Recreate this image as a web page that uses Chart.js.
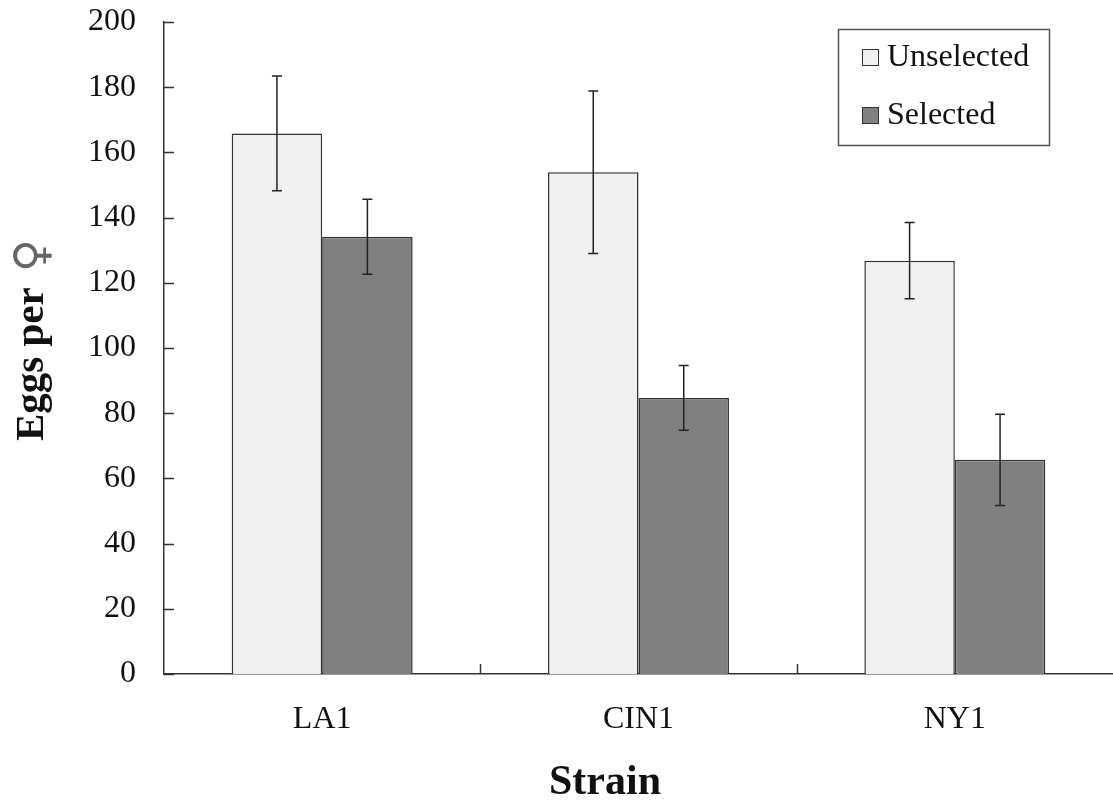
<!DOCTYPE html>
<html>
<head>
<meta charset="utf-8">
<title>Eggs per female by strain</title>
<script src="https://cdn.jsdelivr.net/npm/chart.js"></script>
<style>
  html, body { margin: 0; padding: 0; background: #fff; }
  #wrap { width: 1113px; height: 800px; }
</style>
</head>
<body>
<div id="wrap"><canvas id="chart" width="1113" height="800"></canvas></div>
<script>
const strains = ["LA1", "CIN1", "NY1"];
const unselected = [165.8, 153.9, 126.8];
const selected = [134.1, 84.7, 65.7];
const unselectedErr = [17.6, 24.9, 11.7];
const selectedErr = [11.5, 9.9, 14.0];
const yTicks = [0, 20, 40, 60, 80, 100, 120, 140, 160, 180, 200];

const serif = "'Liberation Serif', 'Times New Roman', serif";
const ink = "#333";

// error bars, inward tick marks, titles and the boxed legend
const extras = {
  id: "extras",
  afterDatasetsDraw(chart) {
    const ctx = chart.ctx;
    const y = chart.scales.y;
    const errs = [unselectedErr, selectedErr];
    ctx.save();
    ctx.strokeStyle = "#222";
    ctx.lineWidth = 1.5;
    chart.data.datasets.forEach((ds, di) => {
      const meta = chart.getDatasetMeta(di);
      meta.data.forEach((bar, i) => {
        const v = ds.data[i];
        const e = errs[di][i];
        const top = y.getPixelForValue(v + e);
        const bot = y.getPixelForValue(v - e);
        ctx.beginPath();
        ctx.moveTo(bar.x, top); ctx.lineTo(bar.x, bot);
        ctx.moveTo(bar.x - 5, top); ctx.lineTo(bar.x + 5, top);
        ctx.moveTo(bar.x - 5, bot); ctx.lineTo(bar.x + 5, bot);
        ctx.stroke();
      });
    });
    ctx.restore();
  },
  afterDraw(chart) {
    const ctx = chart.ctx;
    const area = chart.chartArea;
    const x = chart.scales.x;
    const y = chart.scales.y;
    ctx.save();
    ctx.strokeStyle = ink;
    ctx.lineWidth = 1.5;

    // y ticks point into the plot
    yTicks.forEach(t => {
      const py = Math.round(y.getPixelForValue(t)) + 0.5;
      ctx.beginPath();
      ctx.moveTo(area.left, py);
      ctx.lineTo(area.left + 10, py);
      ctx.stroke();
    });
    // x ticks between categories, pointing up
    for (let i = 0; i < strains.length - 1; i++) {
      const px = Math.round((x.getPixelForValue(i) + x.getPixelForValue(i + 1)) / 2) + 0.5;
      ctx.beginPath();
      ctx.moveTo(px, area.bottom);
      ctx.lineTo(px, area.bottom - 10);
      ctx.stroke();
    }

    // axis titles
    ctx.fillStyle = "#111";
    ctx.font = "bold 42px " + serif;
    ctx.textAlign = "center";
    ctx.textBaseline = "alphabetic";
    ctx.fillText("Strain", 605, 794);

    ctx.save();
    ctx.translate(43, 441);
    ctx.rotate(-Math.PI / 2);
    ctx.textAlign = "left";
    ctx.font = "bold 41px " + serif;
    ctx.fillText("Eggs per ", 0, 0);
    const w = ctx.measureText("Eggs per ").width;
    ctx.font = "45px 'DejaVu Sans', sans-serif";
    ctx.fillStyle = "#666";
    ctx.fillText("\u2640", w + 5, 3);
    ctx.restore();

    // legend box
    const lx = area.left + 674, ly = area.top + 7, lw = 211, lh = 116;
    ctx.fillStyle = "#fff";
    ctx.fillRect(lx, ly, lw, lh);
    ctx.strokeStyle = "#555";
    ctx.lineWidth = 1.5;
    ctx.strokeRect(lx + 0.5, ly + 0.5, lw, lh);
    ctx.font = "32px " + serif;
    ctx.textAlign = "left";
    ctx.textBaseline = "middle";
    chart.data.datasets.forEach((ds, di) => {
      const cy = ly + 28 + di * 58;
      ctx.fillStyle = ds.backgroundColor;
      ctx.fillRect(lx + 24, cy - 8, 16, 16);
      ctx.strokeStyle = "#333";
      ctx.lineWidth = 1;
      ctx.strokeRect(lx + 24.5, cy - 7.5, 16, 16);
      ctx.fillStyle = "#111";
      ctx.fillText(ds.label, lx + 49, cy + 1);
    });
    ctx.restore();
  }
};

new Chart(document.getElementById("chart"), {
  type: "bar",
  data: {
    labels: strains,
    datasets: [
      {
        label: "Unselected",
        data: unselected,
        backgroundColor: "#f0f0f0",
        borderColor: "#333",
        borderWidth: 1.5,
        barPercentage: 1,
        categoryPercentage: 0.572
      },
      {
        label: "Selected",
        data: selected,
        backgroundColor: "#808080",
        borderColor: "#333",
        borderWidth: 1.5,
        barPercentage: 1,
        categoryPercentage: 0.572
      }
    ]
  },
  options: {
    responsive: false,
    animation: false,
    layout: { padding: { top: 22, right: 0, left: 0, bottom: 0 } },
    plugins: {
      legend: { display: false },
      tooltip: { enabled: false }
    },
    scales: {
      x: {
        grid: { display: false, drawTicks: false },
        border: { display: true, color: ink, width: 1.5 },
        ticks: { color: "#111", padding: 26, font: { family: serif, size: 32 } },
        afterFit(scale) {
          scale.height = 126;
          scale.paddingLeft = 0;
          scale.paddingRight = 0;
        }
      },
      y: {
        min: 0,
        max: 200,
        grid: { display: false, drawTicks: false },
        border: { display: true, color: ink, width: 1.5 },
        ticks: { stepSize: 20, color: "#111", padding: 28, font: { family: serif, size: 32 } },
        afterFit(scale) {
          scale.width = 164;
          scale.paddingTop = 0;
          scale.paddingBottom = 0;
        }
      }
    }
  },
  plugins: [extras]
});
</script>
</body>
</html>
